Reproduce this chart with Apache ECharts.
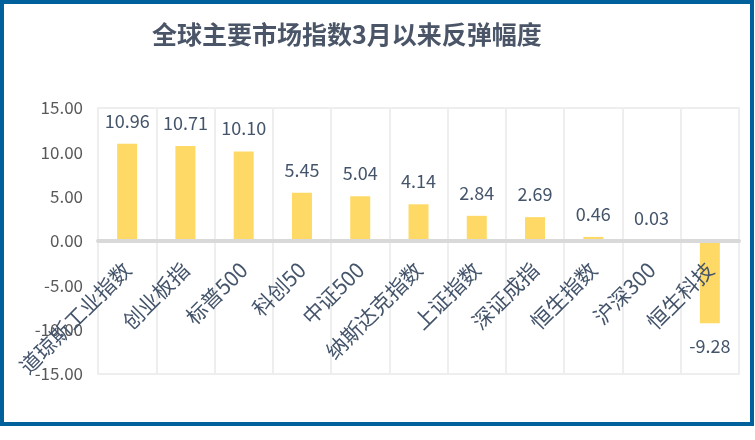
<!DOCTYPE html>
<html><head><meta charset="utf-8">
<script src="https://cdn.jsdelivr.net/npm/echarts@6/dist/echarts.min.js"></script>
<style>
html,body{margin:0;padding:0;background:#fff;}
#c{position:absolute;left:0;top:0;width:755px;height:440px;}
#frame{position:absolute;left:0;top:0;width:754px;height:426px;box-sizing:border-box;border:4px solid #00609C;pointer-events:none;}
</style></head>
<body>
<div id="c"></div>
<div id="frame"></div>
<script>
const categories = ['道琼斯工业指数','创业板指','标普500','科创50','中证500','纳斯达克指数','上证指数','深证成指','恒生指数','沪深300','恒生科技'];
const values = [10.96, 10.71, 10.10, 5.45, 5.04, 4.14, 2.84, 2.69, 0.46, 0.03, -9.28];
const titleText = '全球主要市场指数3月以来反弹幅度';

const gridTop = 108, gridBottom = 66, H = 440;
const zeroOffset = -(H - gridTop - gridBottom) / 2;

const chart = echarts.init(document.getElementById('c'));
chart.setOption({
  animation: false,
  title: {
    text: titleText, left: 147, top: 17,
    textStyle: {fontFamily: 'Noto Sans CJK SC', fontSize: 25, fontWeight: 'bold', color: '#4A5568'}
  },
  grid: {left: 98, right: 16, top: gridTop, bottom: gridBottom, show: true, borderColor: '#EEEEEE', borderWidth: 2,
    containLabel: false, outerBoundsMode: 'none'},
  xAxis: {
    type: 'category', data: categories, position: 'bottom', offset: zeroOffset, z: 5,
    axisLine: {onZero: false, lineStyle: {color: '#D9D9D9', width: 4}},
    axisTick: {show: false},
    splitLine: {show: true, lineStyle: {color: '#EEEEEE', width: 2}},
    axisLabel: {rotate: 45, interval: 0, margin: 25, fontFamily: 'Noto Sans CJK SC', fontSize: 21, color: '#44546A', hideOverlap: false}
  },
  yAxis: {
    type: 'value', min: -15, max: 15, interval: 5,
    axisLine: {show: false}, axisTick: {show: false},
    splitLine: {show: false},
    axisLabel: {formatter: v => v.toFixed(2), fontFamily: 'Noto Sans CJK SC', fontSize: 17, color: '#595959', margin: 15}
  },
  series: [{
    type: 'bar', barWidth: 20, z: 2,
    data: values.map(v => v < 0 ? {value: v, label: {position: 'bottom'}} : v),
    itemStyle: {color: '#FFD966'},
    label: {show: true, position: 'top', distance: 14, formatter: p => p.value.toFixed(2),
      fontFamily: 'Noto Sans CJK SC', fontSize: 18, color: '#44546A'}
  }]
});
</script>
</body></html>
